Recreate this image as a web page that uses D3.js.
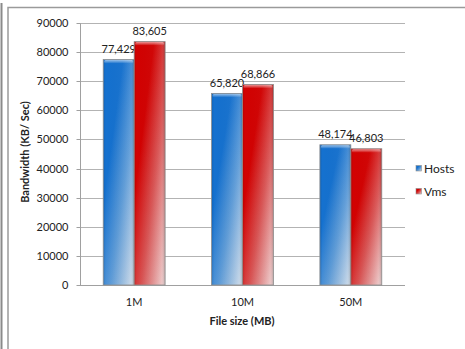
<!DOCTYPE html>
<html>
<head>
<meta charset="utf-8">
<script src="https://cdn.jsdelivr.net/npm/d3@7/dist/d3.min.js"></script>
<style>
  html, body { margin: 0; padding: 0; background: #fff; }
  svg { display: block; font-family: Lato, "Open Sans", sans-serif; }
</style>
</head>
<body>
<svg id="chart" width="465" height="349"></svg>
<script>
// Bandwidth measured per file size, hosts vs. virtual machines
const categories = ["1M", "10M", "50M"];
const seriesNames = ["Hosts", "Vms"];
const hostsValues = [77429, 65820, 48174];
const vmsValues = [83605, 68866, 46803];
const yTicks = [0, 10000, 20000, 30000, 40000, 50000, 60000, 70000, 80000, 90000];
const yTitle = "Bandwidth (KB/ Sec)";
const xTitle = "File size (MB)";

const seriesColors = {
  Hosts: { base: "#1571cf", mid: "#5e9cd8", light: "#d4dee9" },
  Vms:   { base: "#d20202", mid: "#d95555", light: "#eed6d6" }
};

const svg = d3.select("#chart");
const fmt = d3.format(",");

const plot = { left: 80, right: 405, top: 23, bottom: 285 };

// outer frame
svg.append("line").attr("x1", 1.5).attr("x2", 1.5).attr("y1", 3).attr("y2", 349)
  .attr("stroke", "#8a8a8a").attr("stroke-width", 2);
svg.append("path").attr("d", "M8,349 V7.5 H465")
  .attr("fill", "none").attr("stroke", "#9a9a9a").attr("stroke-width", 1.5);

const x0 = d3.scaleBand().domain(categories)
  .range([plot.left, plot.right])
  .paddingInner(1.5 / 3.5).paddingOuter(0.75 / 3.5);
const x1 = d3.scaleBand().domain(seriesNames).range([0, x0.bandwidth()]);
const y = d3.scaleLinear().domain([0, 90000]).range([plot.bottom, plot.top]);

// gradients
const defs = svg.append("defs");
seriesNames.forEach(name => {
  const c = seriesColors[name];
  const g = defs.append("linearGradient").attr("id", "fill-" + name)
    .attr("x1", 0).attr("y1", 0).attr("x2", 1).attr("y2", 1);
  g.append("stop").attr("offset", 0).attr("stop-color", c.base);
  g.append("stop").attr("offset", 0.32).attr("stop-color", c.base);
  g.append("stop").attr("offset", 0.62).attr("stop-color", c.mid);
  g.append("stop").attr("offset", 1).attr("stop-color", c.light);
});
// side bevel shading
const bev = defs.append("linearGradient").attr("id", "bevel")
  .attr("x1", 0).attr("y1", 0).attr("x2", 1).attr("y2", 0);
bev.append("stop").attr("offset", 0).attr("stop-color", "#000").attr("stop-opacity", 0.12);
bev.append("stop").attr("offset", 0.08).attr("stop-color", "#000").attr("stop-opacity", 0);
bev.append("stop").attr("offset", 0.88).attr("stop-color", "#fff").attr("stop-opacity", 0.05);
bev.append("stop").attr("offset", 1).attr("stop-color", "#000").attr("stop-opacity", 0.22);
const topHi = defs.append("linearGradient").attr("id", "tophi")
  .attr("x1", 0).attr("y1", 0).attr("x2", 0).attr("y2", 1);
topHi.append("stop").attr("offset", 0).attr("stop-color", "#fff").attr("stop-opacity", 0.55);
topHi.append("stop").attr("offset", 1).attr("stop-color", "#fff").attr("stop-opacity", 0);

// gridlines
svg.append("g").selectAll("line").data(yTicks).join("line")
  .attr("x1", plot.left).attr("x2", plot.right)
  .attr("y1", d => Math.round(y(d)) + 0.5).attr("y2", d => Math.round(y(d)) + 0.5)
  .attr("stroke", "#b3b3b3").attr("stroke-width", 1);

// y axis
const yAxis = d3.axisLeft(y).tickValues(yTicks).tickSize(4).tickPadding(8)
  .tickFormat(d3.format("d"));
const gy = svg.append("g").attr("transform", `translate(${plot.left + 0.5},0.5)`).call(yAxis);
gy.select(".domain").attr("stroke", "#a0a0a0").attr("d", `M0,${Math.round(y(90000))}V${Math.round(y(0))}`);
gy.selectAll(".tick line").attr("stroke", "#a0a0a0");
gy.selectAll(".tick text").attr("font-size", 11).attr("fill", "#222")
  .attr("font-family", "Lato, 'Open Sans', sans-serif");
gy.selectAll(".tick").attr("transform", d => `translate(0,${Math.round(y(d))})`);

// x axis
svg.append("line").attr("x1", plot.left).attr("x2", plot.right)
  .attr("y1", Math.round(y(0)) + 0.5).attr("y2", Math.round(y(0)) + 0.5)
  .attr("stroke", "#a0a0a0");
svg.append("g").selectAll("text").data(categories).join("text")
  .attr("x", d => x0(d) + x0.bandwidth() / 2).attr("y", 305.5)
  .attr("text-anchor", "middle").attr("font-size", 11).attr("fill", "#222")
  .text(d => d);

// bars
const rows = categories.map((c, i) => ({ cat: c, Hosts: hostsValues[i], Vms: vmsValues[i] }));
const groups = svg.append("g").selectAll("g").data(rows).join("g")
  .attr("transform", d => `translate(${x0(d.cat)},0)`);
const barItems = groups.selectAll("g").data(d => seriesNames.map(s => ({ s, v: d[s] }))).join("g");
barItems.append("rect")
  .attr("x", d => x1(d.s)).attr("y", d => y(d.v))
  .attr("width", x1.bandwidth()).attr("height", d => y(0) - y(d.v))
  .attr("fill", d => `url(#fill-${d.s})`);
barItems.append("rect")
  .attr("x", d => x1(d.s)).attr("y", d => y(d.v))
  .attr("width", x1.bandwidth()).attr("height", d => y(0) - y(d.v))
  .attr("fill", "url(#bevel)")
  .attr("stroke", "#8e8e8e").attr("stroke-width", 0.8);
barItems.append("rect")
  .attr("x", d => x1(d.s) + 1).attr("y", d => y(d.v) + 0.5)
  .attr("width", x1.bandwidth() - 2).attr("height", 3.5).attr("rx", 1.5)
  .attr("fill", "url(#tophi)");

// value labels
barItems.append("text")
  .attr("x", d => x1(d.s) + x1.bandwidth() / 2).attr("y", d => y(d.v) - 6.5)
  .attr("text-anchor", "middle").attr("font-size", 11).attr("fill", "#222")
  .text(d => fmt(d.v));

// axis titles
svg.append("text").attr("transform", `translate(29,152) rotate(-90)`)
  .attr("text-anchor", "middle").attr("font-size", 11).attr("font-weight", "bold")
  .attr("fill", "#222").text(yTitle);
svg.append("text").attr("x", 242).attr("y", 325)
  .attr("text-anchor", "middle").attr("font-size", 11).attr("font-weight", "bold")
  .attr("fill", "#222").text(xTitle);

// legend
const legend = svg.append("g").selectAll("g").data(seriesNames).join("g")
  .attr("transform", (d, i) => `translate(416,${165.5 + i * 23})`);
legend.append("rect").attr("width", 5.5).attr("height", 5.5)
  .attr("fill", d => `url(#fill-${d})`).attr("stroke", "#8e8e8e").attr("stroke-width", 0.6);
legend.append("text").attr("x", 8).attr("y", 7)
  .attr("font-size", 12).attr("fill", "#222").text(d => d);
</script>
</body>
</html>
